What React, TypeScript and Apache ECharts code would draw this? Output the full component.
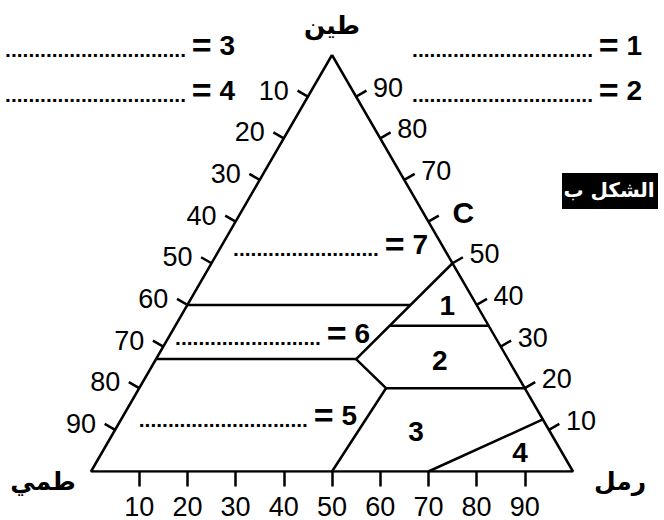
import React, { useEffect, useRef } from "react";
import * as echarts from "echarts";

const SQ = Math.sqrt(3) / 2;
const NUM_FONT = "Arial, 'Liberation Sans', sans-serif";
const AR_FONT = "'DejaVu Sans', 'Noto Sans', sans-serif";

// tick values along each edge (percent)
const edgeValues = [10, 20, 30, 40, 50, 60, 70, 80, 90];
const siltTickLabels = ["10", "20", "30", "40", "50", "60", "70", "80", "90"]; // left edge, top -> bottom
const clayTickLabels = ["10", "20", "30", "40", "50", "C", "70", "80", "90"]; // right edge, bottom -> top
const sandTickLabels = ["10", "20", "30", "40", "50", "60", "70", "80", "90"]; // base, left -> right

const cornerNames = ["طين", "طمي", "رمل"]; // clay (apex), silt (left), sand (right)
const figureTitle = "الشكل ب";

// points are [clay %, sand %]
const outline = [[100, 0], [0, 0], [0, 100], [100, 0]];
const boundaries = [
  [[40, 0], [40, 46.3]],
  [[50, 50], [27, 41.5]],
  [[35, 44.5], [35, 65]],
  [[27, 0], [27, 41.5]],
  [[27, 41.5], [20, 51.2], [0, 50]],
  [[20, 51.2], [20, 80]],
  [[0, 70], [12.5, 87.5]],
];

const regionNames = ["1", "2", "3", "4"];
const regionClay = [39.8, 26.7, 9.7, 4.6];
const regionSand = [54, 59, 62.6, 86.7];

// answer keys "....... = n"
const keyNumbers = ["1", "2", "3", "4", "7", "6", "5"];
const keyDotCounts = [31, 31, 31, 31, 25, 25, 29];

const toXY = (p: number[]) => [p[1] + p[0] / 2, p[0] * SQ];

function keyText(n: string, dots: number) {
  return "{d|" + ".".repeat(dots) + " }{e|=}{n| " + n + "}";
}
const keyRich = {
  d: { fontSize: 21, fontWeight: "bold", fontFamily: NUM_FONT, verticalAlign: "bottom", padding: [0, 0, 2, 0] },
  e: { fontSize: 34, fontWeight: "bold", fontFamily: NUM_FONT },
  n: { fontSize: 28, fontWeight: "bold", fontFamily: NUM_FONT },
};

export default function App() {
  const ref = useRef<HTMLDivElement>(null);
  useEffect(() => {
    if (!ref.current) return;
    const chart = echarts.init(ref.current, null, { renderer: "svg" });

    const tickData: number[][] = [];
    edgeValues.forEach((v, i) => {
      const l = toXY([100 - v, 0]);
      tickData.push([l[0], l[1], 0, i]);
      const r = toXY([v, 100 - v]);
      tickData.push([r[0], r[1], 1, i]);
    });

    const regionData = regionNames.map((_, i) => {
      const p = toXY([regionClay[i], regionSand[i]]);
      return [p[0], p[1], i];
    });

    const lineSeries = [outline, ...boundaries].map((pts) => ({
      type: "line",
      data: pts.map(toXY),
      symbol: "none",
      silent: true,
      lineStyle: { color: "#000", width: 2.5 },
      z: 3,
    }));

    const keyPos = [
      [642, 45], [642, 90], [235, 45], [235, 90], [428, 244], [370, 333], [357, 415],
    ];

    const graphics: any[] = [];
    keyNumbers.forEach((n, i) => {
      graphics.push({
        type: "text",
        x: keyPos[i][0],
        y: keyPos[i][1],
        style: {
          text: keyText(n, keyDotCounts[i]),
          rich: keyRich,
          align: "right",
          verticalAlign: "middle",
          fill: "#000",
        },
      });
    });
    const cornerPos = [[332, 25], [43, 481], [620, 481]];
    cornerNames.forEach((t, i) => {
      graphics.push({
        type: "text",
        x: cornerPos[i][0],
        y: cornerPos[i][1],
        style: {
          text: t,
          fontSize: 25,
          fontWeight: "bold",
          fontFamily: AR_FONT,
          fill: "#000",
          align: "center",
          verticalAlign: "middle",
        },
      });
    });
    graphics.push({
      type: "rect",
      shape: { x: 562, y: 173, width: 96, height: 36 },
      style: { fill: "#000" },
    });
    graphics.push({
      type: "text",
      x: 609,
      y: 190,
      style: {
        text: figureTitle,
        fontSize: 20,
        fontWeight: "bold",
        fontFamily: AR_FONT,
        fill: "#fff",
        align: "center",
        verticalAlign: "middle",
      },
    });

    chart.setOption({
      animation: false,
      backgroundColor: "#fff",
      grid: { left: 91, top: 55, width: 482, height: 417.4 },
      xAxis: {
        type: "value",
        min: 0,
        max: 100,
        axisLine: { show: false },
        splitLine: { show: false },
        axisTick: {
          show: true,
          length: 15,
          lineStyle: { color: "#000", width: 2.5 },
          customValues: edgeValues,
        },
        axisLabel: {
          customValues: edgeValues,
          formatter: (v: number) => sandTickLabels[edgeValues.indexOf(v)] ?? "",
          fontSize: 27,
          lineHeight: 22,
          color: "#000",
          margin: 24,
          fontFamily: NUM_FONT,
        },
      },
      yAxis: { type: "value", min: 0, max: 100 * SQ, show: false },
      series: [
        ...lineSeries,
        {
          type: "custom",
          silent: true,
          data: tickData,
          z: 4,
          renderItem: (params: any, api: any) => {
            const pt = api.coord([api.value(0), api.value(1)]);
            const side = api.value(2);
            const idx = api.value(3);
            const nx = side === 0 ? -0.866 : 0.866;
            const ny = -0.5;
            const len = 12;
            const label = side === 0 ? siltTickLabels[idx] : clayTickLabels[idx];
            const isC = label === "C";
            return {
              type: "group",
              children: [
                {
                  type: "line",
                  shape: { x1: pt[0], y1: pt[1], x2: pt[0] + nx * len, y2: pt[1] + ny * len },
                  style: { stroke: "#000", lineWidth: 2.5 },
                },
                {
                  type: "text",
                  x: side === 0 ? pt[0] - 19 : pt[0] + 17 + (isC ? 7 : 0),
                  y: side === 0 ? pt[1] - 6 : pt[1] - 9,
                  style: {
                    text: label,
                    fontSize: isC ? 30 : 27,
                    fontWeight: isC ? "bold" : "normal",
                    fontFamily: NUM_FONT,
                    fill: "#000",
                    align: side === 0 ? "right" : "left",
                    verticalAlign: "middle",
                  },
                },
              ],
            };
          },
        },
        {
          type: "custom",
          silent: true,
          data: regionData,
          z: 4,
          renderItem: (params: any, api: any) => {
            const pt = api.coord([api.value(0), api.value(1)]);
            return {
              type: "text",
              x: pt[0],
              y: pt[1],
              style: {
                text: regionNames[api.value(2)],
                fontSize: 28,
                fontWeight: "bold",
                fontFamily: NUM_FONT,
                fill: "#000",
                align: "center",
                verticalAlign: "middle",
              },
            };
          },
        },
      ],
      graphic: graphics,
    });
    return () => chart.dispose();
  }, []);
  return (
    <div
      ref={ref}
      style={{ position: "fixed", left: 0, top: 0, width: 664, height: 520, background: "#fff" }}
    />
  );
}
